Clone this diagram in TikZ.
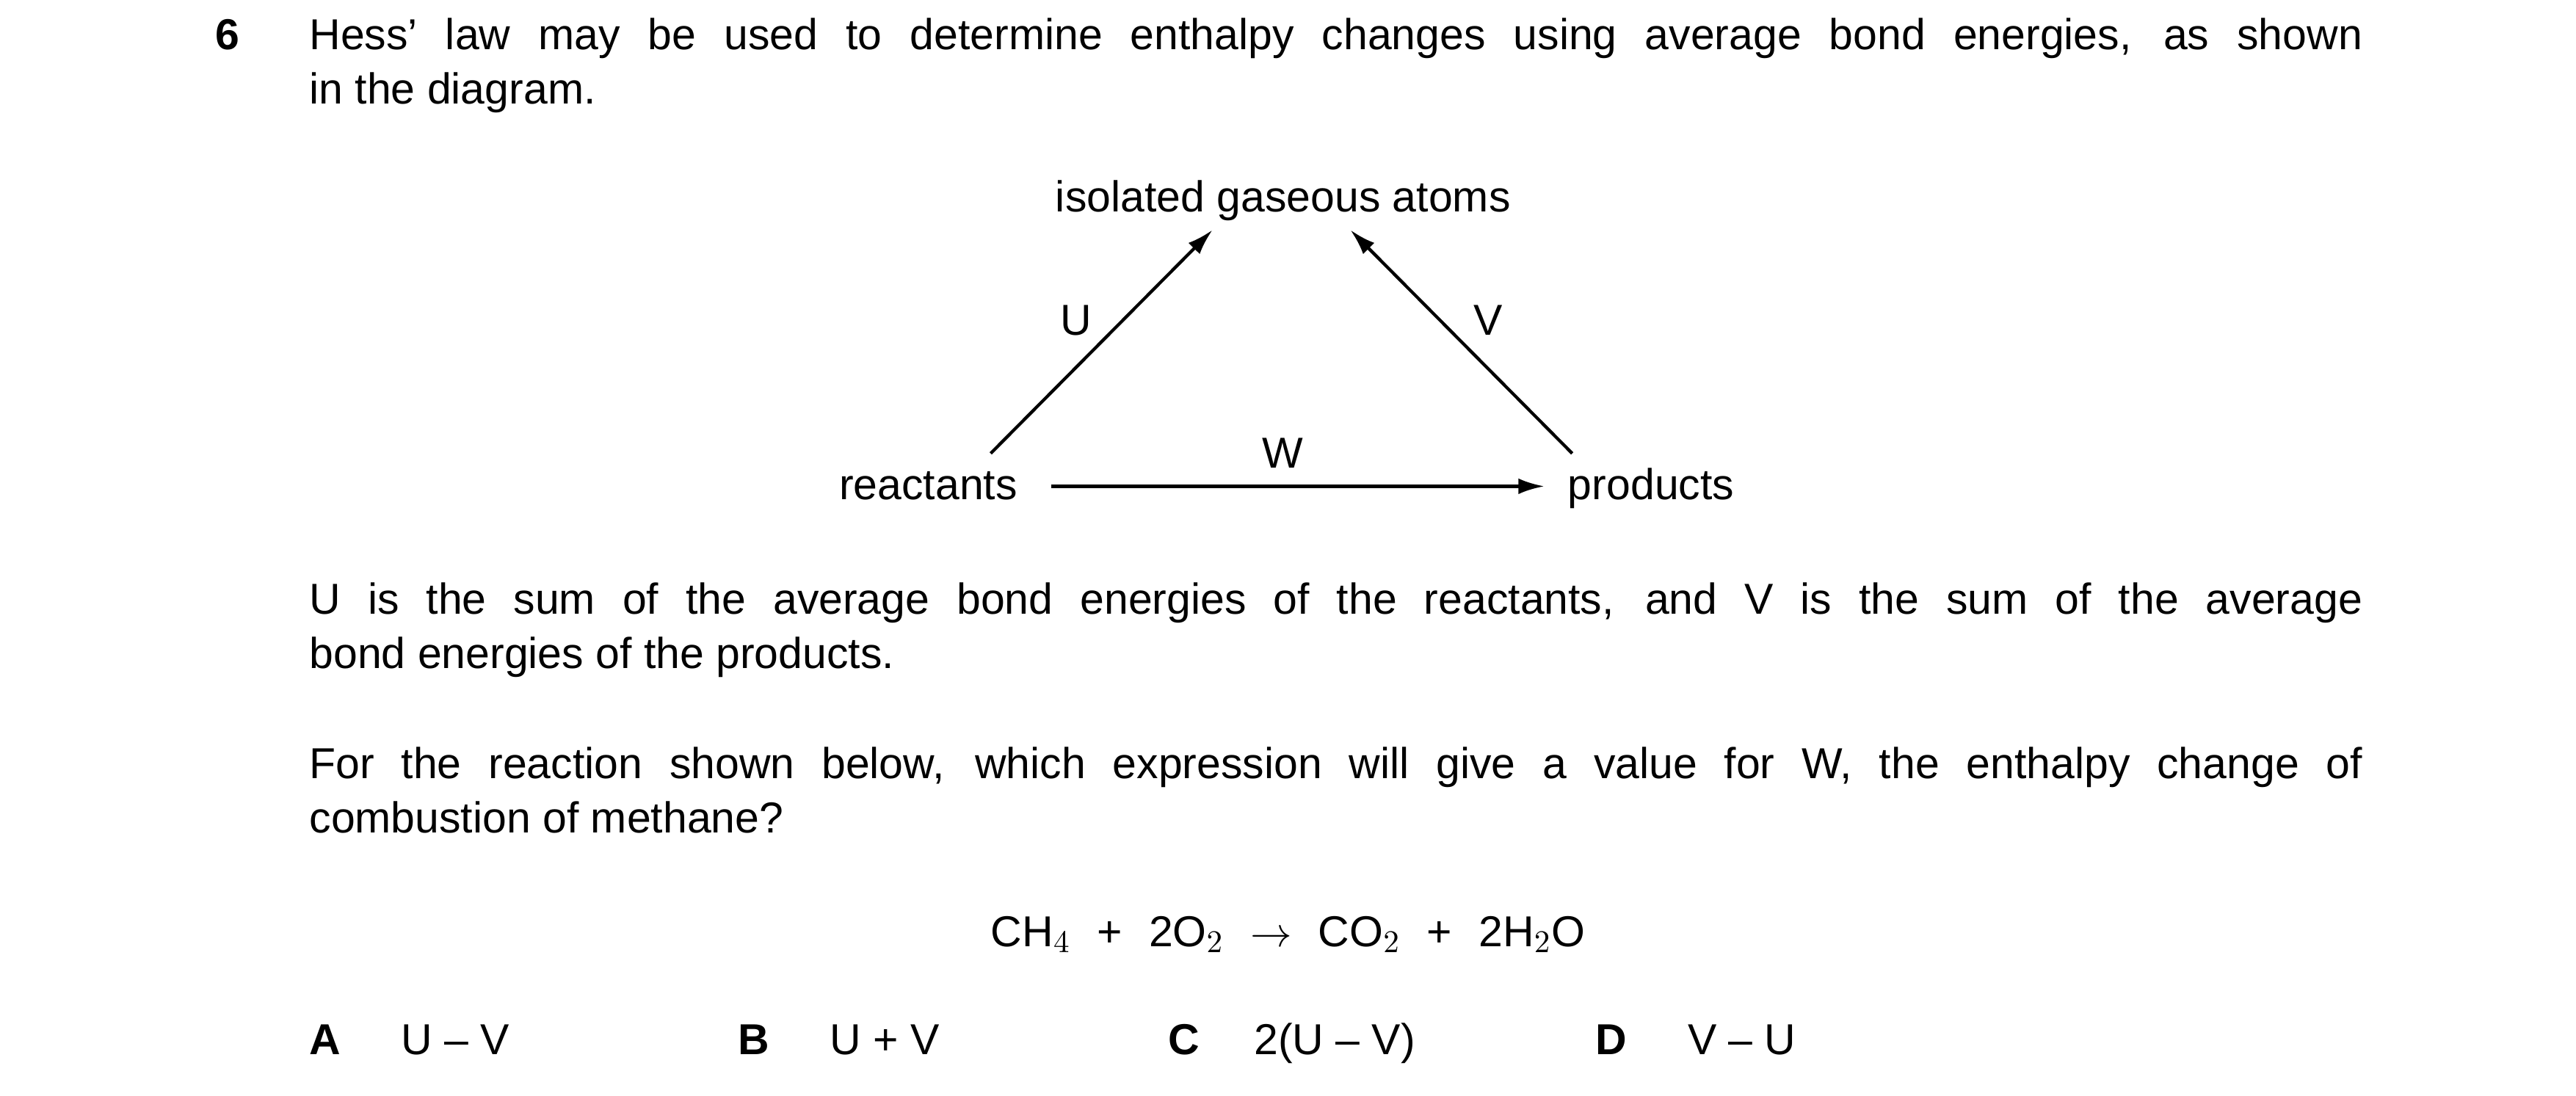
\documentclass[tikz,border=0pt]{standalone}
\usepackage{fontspec}
\setmainfont{Liberation Sans}
\usetikzlibrary{arrows.meta}
\begin{document}
\begin{tikzpicture}[x=0.02cm,y=-0.02cm,
  t/.style={inner sep=0pt,anchor=base west,font=\fontsize{15}{18}\selectfont},
  c/.style={inner sep=0pt,anchor=base,font=\fontsize{15}{18}\selectfont},
  ar/.style={line width=1.1pt,-{Latex[length=9pt,width=5.5pt]}}]
\useasboundingbox (0,0) rectangle (1568,667);
\node[t,font=\fontsize{15}{18}\selectfont\bfseries] (n6) at (131,30) {6};
\node[t] (l1) at (188,30) {\makebox[25cm][s]{Hess’ law may be used to determine enthalpy changes using average bond energies, as shown}};
\node[t] (l2) at (188,63) {in the diagram.};
\node[c] (iso) at (781,129) {isolated gaseous atoms};
\node[c] (re) at (565,304) {reactants};
\node[c] (pr) at (1005,304) {products};
\node[c] (U) at (655,204) {U};
\node[c] (V) at (906,204) {V};
\node[c] (W) at (781,285) {W};
\coordinate (u1) at (603,276); \coordinate (u2) at (738,140);
\coordinate (v1) at (957,276); \coordinate (v2) at (822,140);
\coordinate (w1) at (640,296); \coordinate (w2) at (940,296);
\draw[ar] (u1) -- (u2);
\draw[ar] (v1) -- (v2);
\draw[ar] (w1) -- (w2);
\node[t] (p1) at (188,374) {\makebox[25cm][s]{U is the sum of the average bond energies of the reactants, and V is the sum of the average}};
\node[t] (p2) at (188,407) {bond energies of the products.};
\node[t] (q1) at (188,474) {\makebox[25cm][s]{For the reaction shown below, which expression will give a value for W, the enthalpy change of}};
\node[t] (q2) at (188,507) {combustion of methane?};
\node[c] (eq) at (784,576) {CH$_4$\,\, +\,\, 2O$_2$\,\, $\rightarrow$\,\, CO$_2$\,\, +\,\, 2H$_2$O};
\node[t,font=\fontsize{15}{18}\selectfont\bfseries] (A) at (188,642) {A};
\node[t] (a) at (244,642) {U – V};
\node[t,font=\fontsize{15}{18}\selectfont\bfseries] (B) at (449,642) {B};
\node[t] (b) at (505,642) {U + V};
\node[t,font=\fontsize{15}{18}\selectfont\bfseries] (C) at (711,642) {C};
\node[t] (cc) at (763,642) {2(U – V)};
\node[t,font=\fontsize{15}{18}\selectfont\bfseries] (D) at (971,642) {D};
\node[t] (d) at (1027,642) {V – U};
\end{tikzpicture}
\end{document}
